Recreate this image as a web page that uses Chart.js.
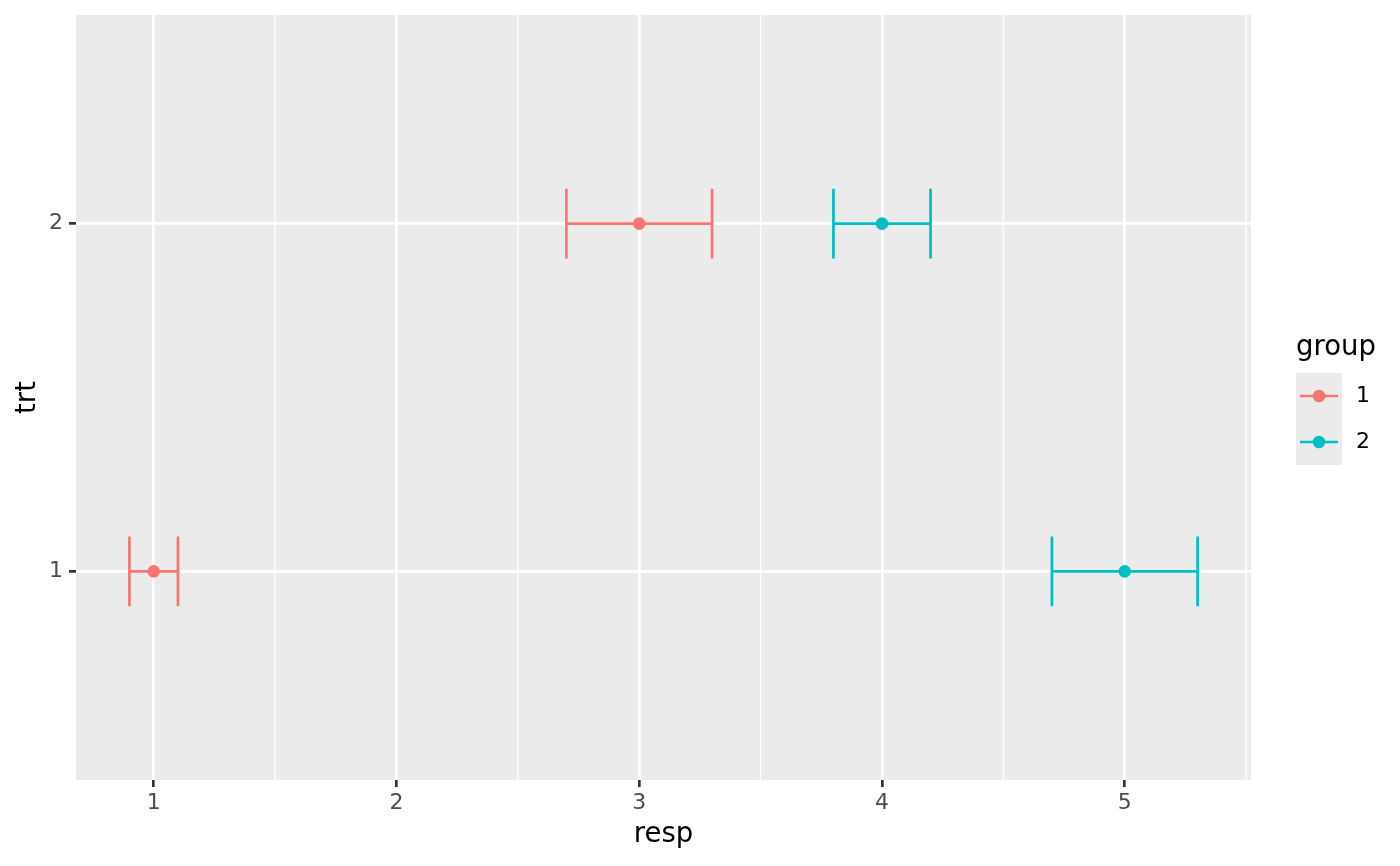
<!DOCTYPE html>
<html><head><meta charset="utf-8">
<script src="https://cdn.jsdelivr.net/npm/chart.js@4"></script>
<style>html,body{margin:0;padding:0;background:#fff;} canvas{display:block}</style>
</head><body>
<canvas id="c" width="1400" height="866"></canvas>
<script>
// ---- data ----
const trtLevels = ['1', '2'];
const groupNames = ['1', '2'];
const groupColors = ['#F8766D', '#00BFC4'];
const g1Trt = [1, 2];
const g1Resp = [1, 3];
const g1Low = [0.9, 2.7];
const g1High = [1.1, 3.3];
const g2Trt = [1, 2];
const g2Resp = [5, 4];
const g2Low = [4.7, 3.8];
const g2High = [5.3, 4.2];
const xMajorTicks = [1, 2, 3, 4, 5];
const xMinorTicks = [0.5, 1.5, 2.5, 3.5, 4.5, 5.5];
const yMajorTicks = [1, 2];
const xTitle = 'resp';
const yTitle = 'trt';
const legendTitle = 'group';
const barHeight = 0.2;

// ---- scale ranges (ggplot expansion) ----
const allLow = g1Low.concat(g2Low), allHigh = g1High.concat(g2High);
const xLo = Math.min(...allLow), xHi = Math.max(...allHigh);
const xPad = (xHi - xLo) * 0.05;
const yMin = 1 - 0.6, yMax = trtLevels.length + 0.6;

const series = [
  {trt: g1Trt, resp: g1Resp, low: g1Low, high: g1High},
  {trt: g2Trt, resp: g2Resp, low: g2Low, high: g2High}
];

Chart.defaults.font.family = 'DejaVu Sans';
const LW = 2.7;

const ggPlugin = {
  id: 'gg',
  beforeDraw(chart) {
    const {ctx, chartArea: a} = chart;
    const x = chart.scales.x;
    ctx.save();
    ctx.fillStyle = '#EBEBEB';
    ctx.fillRect(a.left, a.top, a.right - a.left, a.bottom - a.top);
    ctx.strokeStyle = '#FFFFFF';
    ctx.lineWidth = 1.35;
    xMinorTicks.forEach(v => {
      const px = x.getPixelForValue(v);
      if (px < a.left || px > a.right) return;
      ctx.beginPath(); ctx.moveTo(px, a.top); ctx.lineTo(px, a.bottom); ctx.stroke();
    });
    ctx.restore();
  },
  beforeDatasetsDraw(chart) {
    const {ctx} = chart;
    const x = chart.scales.x, y = chart.scales.y;
    ctx.save();
    ctx.lineWidth = LW;
    ctx.lineCap = 'butt';
    series.forEach((s, gi) => {
      ctx.strokeStyle = groupColors[gi];
      s.trt.forEach((t, i) => {
        const xl = x.getPixelForValue(s.low[i]);
        const xh = x.getPixelForValue(s.high[i]);
        const yc = y.getPixelForValue(t);
        const yt = y.getPixelForValue(t + barHeight / 2);
        const yb = y.getPixelForValue(t - barHeight / 2);
        ctx.beginPath();
        ctx.moveTo(xl, yt); ctx.lineTo(xl, yb);
        ctx.moveTo(xh, yt); ctx.lineTo(xh, yb);
        ctx.moveTo(xl, yc); ctx.lineTo(xh, yc);
        ctx.stroke();
      });
    });
    ctx.restore();
  },
  afterDraw(chart) {
    const {ctx} = chart;
    ctx.save();
    ctx.fillStyle = '#000000';
    ctx.font = '27.5px "DejaVu Sans"';
    ctx.textAlign = 'left';
    ctx.textBaseline = 'alphabetic';
    ctx.fillText(legendTitle, 1296, 355);
    const kx = 1296, ky = 373, kw = 46, kh = 46;
    groupNames.forEach((g, i) => {
      const top = ky + i * kh;
      ctx.fillStyle = '#EBEBEB';
      ctx.fillRect(kx, top, kw, kh);
    });
    groupNames.forEach((g, i) => {
      const cy = ky + i * kh + kh / 2;
      ctx.strokeStyle = groupColors[i];
      ctx.lineWidth = LW;
      ctx.beginPath(); ctx.moveTo(kx + 4, cy); ctx.lineTo(kx + kw - 4, cy); ctx.stroke();
      ctx.fillStyle = groupColors[i];
      ctx.beginPath(); ctx.arc(kx + kw / 2, cy, 6.3, 0, Math.PI * 2); ctx.fill();
      ctx.fillStyle = '#000000';
      ctx.font = '22px "DejaVu Sans"';
      ctx.textBaseline = 'middle';
      ctx.fillText(g, 1356, cy);
    });
    ctx.restore();
  }
};

new Chart(document.getElementById('c'), {
  type: 'scatter',
  data: {
    datasets: series.map((s, gi) => ({
      label: groupNames[gi],
      data: s.resp.map((r, i) => ({x: r, y: s.trt[i]})),
      backgroundColor: groupColors[gi],
      borderWidth: 0,
      pointRadius: 6.3,
      pointHoverRadius: 6.3
    }))
  },
  options: {
    responsive: false,
    animation: false,
    devicePixelRatio: 1,
    events: [],
    layout: {padding: {top: 15, right: 149, left: 0, bottom: 0}},
    plugins: {legend: {display: false}, tooltip: {enabled: false}},
    scales: {
      x: {
        type: 'linear',
        min: xLo - xPad, max: xHi + xPad,
        afterBuildTicks: sc => { sc.ticks = xMajorTicks.map(v => ({value: v})); },
        afterFit: sc => { sc.height = 86; sc.paddingLeft = 0; sc.paddingRight = 0; },
        border: {display: false},
        grid: {color: '#FFFFFF', lineWidth: LW, tickColor: '#333333', tickWidth: LW, tickLength: 7},
        ticks: {color: '#4D4D4D', font: {size: 22}, padding: 3, maxRotation: 0, autoSkip: false,
                callback: v => String(v)},
        title: {display: true, text: xTitle, color: '#000000', font: {size: 27.5}, padding: {top: 0, bottom: 15}}
      },
      y: {
        type: 'linear',
        min: yMin, max: yMax,
        afterBuildTicks: sc => { sc.ticks = yMajorTicks.map(v => ({value: v})); },
        afterFit: sc => { sc.width = 76; sc.paddingTop = 0; sc.paddingBottom = 0; },
        border: {display: false},
        grid: {color: '#FFFFFF', lineWidth: LW, tickColor: '#333333', tickWidth: LW, tickLength: 7},
        ticks: {color: '#4D4D4D', font: {size: 22}, padding: 6, autoSkip: false,
                callback: v => trtLevels[Math.round(v) - 1]},
        title: {display: true, text: yTitle, color: '#000000', font: {size: 27.5}, padding: {top: 11, bottom: 0}}
      }
    }
  },
  plugins: [ggPlugin]
});
</script>
</body></html>
